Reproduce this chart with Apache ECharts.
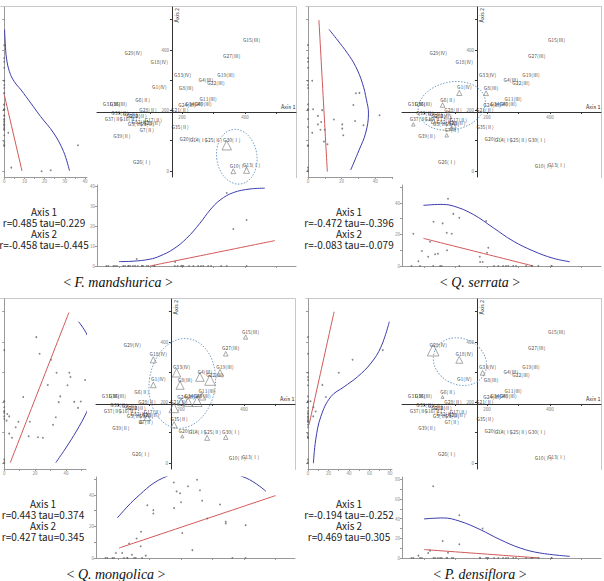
<!DOCTYPE html>
<html>
<head>
<meta charset="utf-8">
<title>Species overlays on the ordination</title>
<script src="https://cdn.jsdelivr.net/npm/echarts@6/dist/echarts.min.js"></script>
<style>
  html, body { margin: 0; padding: 0; background: #fff; }
  #main { width: 604px; height: 581px; }
</style>
</head>
<body>
<div id="main"></div>
<script>
// plots and their scores on ordination axis 1 / axis 2
var plotNames = ['G15(Ⅲ)','G27(Ⅲ)','G29(Ⅳ)','G18(Ⅳ)','G19(Ⅲ)','G33(Ⅳ)','G4(Ⅲ)','G22(Ⅲ)','G1(Ⅳ)','G8(Ⅲ)',
                 'G6(Ⅱ)','G11(Ⅲ)','G31(Ⅲ)','G36(Ⅲ)','G24(Ⅲ)','G34(Ⅲ)','G40(Ⅲ)','G28(Ⅱ)','G21(Ⅱ)','G37(Ⅱ)',
                 'G9(Ⅱ)','G12(Ⅱ)','G16(Ⅱ)','G32(Ⅱ)','G38(Ⅱ)','G17(Ⅱ)','G5(Ⅱ)','G3(Ⅱ)','G7(Ⅱ)','G39(Ⅱ)',
                 'G26(Ⅰ)','G35(Ⅱ)','G20(Ⅰ)','G14(Ⅰ)','G25(Ⅱ)','G30(Ⅰ)','G10(Ⅰ)','G13(Ⅰ)','G2(Ⅱ)','G23(Ⅱ)'];
var axis1 = [405,342,29,112,324,186,260,292,112,197, 59,267,-40,-18,200,222,251,76,177,-34,
             19,44,13,51,-13,93,35,73,72,-7, 56,178,204,236,283,342,363,405,30,88];
var axis2 = [416,361,373,341,298,298,284,274,258,257, 218,220,204,204,201,202,203,184,182,154,
             170,162,154,145,172,151,136,136,118,97, 11,126,88,83,83,85,-1,2,165,140];

// abundance of each species in the plots (same order as plotNames)
var abFM = [0,0,0,0,0,0,0,0,0,0, 0,0,0,0,0,0,0,0,0,0, 0,0,0,0,0,0,0,0,0,0, 3.5,2,0,0,0,36.5,18.5,23,0,0];
var abQS = [0,0,0,0,0,2.5,0,0,30.6,28.5, 27,0,0,3,8.4,0,0,42.6,5.9,20.4, 15.4,7.8,5.9,0,0,33,7.4,10,21,9.5, 0,2.5,11.6,0,0,0,0,0,28,20.4];
var abQM = [20.8,22.9,0,30.3,33.9,42.2,42.9,52.4,28.2,41, 12.3,36.3,0,0,35.3,45.4,49.6,0,47.8,0, 0,2,3.2,0,0,33.4,9.2,16.6,7.4,3.2, 0,31.6,15.8,5,25,21.8,0,0,0,1.5];
var abPD = [0,0,73,43.5,0,30,0,0,14,0, 17.4,0,0,2.4,0,0,0,5.3,0,0, 7.5,0,5.1,0,0,0,0,0,0,0, 0,0,0,0,0,0,0,0,0,0];

// fitted curves: left plots [abundance, axis 2], bottom plots [axis 1, abundance]
var fmLeftBlue = [[0.15,468],[0.5,422],[1.1,373],[2.6,328],[5,295],[8.3,268],[13.2,224],[18,180],[24.5,125],[29.4,64],[32.3,1]];
var fmLeftRed  = [[0,252],[8.8,0]];
var fmBotBlue  = [[0,2.2],[45,2.4],[98,3.4],[130,5],[172,8.4],[215,13.9],[257,21.4],[289,28],[321,33],[363,36.7],[416,38.5],[463,38.9]];
var fmBotRed   = [[98,0],[495,12.7]];

var qsLeftBlue = [[12.5,468],[17.5,433],[23.5,389],[28.4,345],[32.4,290],[34.8,235],[36,191],[34.3,125],[30.4,69],[25.4,3]];
var qsLeftRed  = [[6.5,499],[11.5,-2]];
var qsBotBlue  = [[-2,38.4],[51,39],[93,38],[156,32.7],[220,24.2],[283,15.8],[347,9.5],[410,4.9],[463,2.7]];
var qsBotRed   = [[-2,17.5],[347,0]];

var qmLeftBlue = [[33.4,1],[54.6,181],[58.4,296],[54.6,412],[48.2,467]];
var qmLeftRed  = [[3.9,1],[41.9,497]];
var qmBotBlue  = [[-2.5,25.3],[60,38.5],[142,50.6],[275,58],[407,50.6],[470,42.2]];
var qmBotRed   = [[3,6.3],[500,39.5]];

var pdLeftBlue = [[5.3,-1],[7.5,76],[12.5,153],[22.3,219],[35.3,252],[48.4,285],[61.5,330],[71.3,384],[79.4,467]];
var pdLeftRed  = [[1,126],[25.5,500]];
var pdBotBlue  = [[0,39.8],[61,40.8],[114,37.4],[178,29],[241,18.8],[305,10.2],[368,5.1],[463,1.7]];
var pdBotRed   = [[0,8.6],[368,0]];

// group ellipses: centre x, centre y, radius x, radius y (axis units), tilt in degrees
var ellFM = [374, 47, 64, 91, 8];
var ellQS = [88, 215, 108, 79, 12];
var ellQM = [204, 263, 105, 149, -8];
var ellPD = [114, 335, 87, 76, -25];

var panels = [
  {ox: 0, oy: 0, capX: 118, name: 'F. mandshurica', stats: ['r=0.485 tau=0.229', 'r=-0.458 tau=-0.445'],
   ab: abFM, tri: 0.26, ell: ellFM, lMax: 41, lLab: [0,10,20,30,40], lTick: [0,5,10,15,20,25,30,35,40],
   bMax: 40.5, bLab: [0,10,20,30,40], bTick: [0,10,20,30,40],
   lBlue: fmLeftBlue, lRed: fmLeftRed, bBlue: fmBotBlue, bRed: fmBotRed},
  {ox: 305, oy: 0, capX: 480, name: 'Q. serrata', stats: ['r=-0.472 tau=-0.396', 'r=-0.083 tau=-0.079'],
   ab: abQS, tri: 0.17, ell: ellQS, lMax: 50, lLab: [0,20,40], lTick: [0,10,20,30,40,50],
   bMax: 51.3, bLab: [0,20,40], bTick: [0,10,20,30,40,50],
   lBlue: qsLeftBlue, lRed: qsLeftRed, bBlue: qsBotBlue, bRed: qsBotRed},
  {ox: -1, oy: 292, capX: 116, name: 'Q. mongolica', stats: ['r=0.443 tau=0.374', 'r=0.427 tau=0.345'],
   ab: abQM, tri: 0.2, ell: ellQM, lMax: 53, lLab: [0,20,40], lTick: [0,10,20,30,40,50],
   bMax: 51.3, bLab: [0,20,40], bTick: [0,10,20,30,40,50],
   lBlue: qmLeftBlue, lRed: qmLeftRed, bBlue: qmBotBlue, bRed: qmBotRed},
  {ox: 305, oy: 292, capX: 480, name: 'P. densiflora', stats: ['r=-0.194 tau=-0.252', 'r=0.469 tau=0.305'],
   ab: abPD, tri: 0.16, ell: ellPD, lMax: 82, lLab: [0,20,40,60,80], lTick: [0,10,20,30,40,50,60,70,80],
   bMax: 82.5, bLab: [0,20,40,60,80], bTick: [0,10,20,30,40,50,60,70,80],
   lBlue: pdLeftBlue, lRed: pdLeftRed, bBlue: pdBotBlue, bRed: pdBotRed}
];

var X_MIN = -70, X_MAX = 562, Y_MIN = -20, Y_MAX = 542;
var CROSS_X = 168, CROSS_Y = 195;   // where the two ordination axes meet
var MAIN_W = 199, MAIN_H = 170, BOT_H = 81, LEFT_W = 84;

var BLUE = '#3c3cac', RED = '#d25858', AXIS = '#333', SOFT = '#999';
var SANS = 'Noto Sans CJK KR';

var grids = [], xAxes = [], yAxes = [], series = [], titles = [], graphics = [];

function sideAxis(gi, min, max, ticks, labels) {
  return {
    gridIndex: gi, type: 'value', min: min, max: max,
    axisLine: { onZero: false, lineStyle: { color: SOFT, width: 1 } },
    axisTick: { show: true, length: 2, customValues: ticks, lineStyle: { color: SOFT } },
    axisLabel: labels ? { customValues: labels, fontSize: 4.5, color: '#888', margin: 2, fontFamily: SANS } : { show: false },
    splitLine: { show: false }
  };
}

function line(data, color, xi, yi) {
  return { type: 'line', xAxisIndex: xi, yAxisIndex: yi, data: data, smooth: 0.4, showSymbol: false,
           lineStyle: { color: color, width: 1 }, clip: true, silent: true, z: 3 };
}

panels.forEach(function (p, k) {
  var gm = 3 * k, gl = 3 * k + 1, gb = 3 * k + 2;
  grids.push({ left: p.ox + 97, top: p.oy + 7, width: MAIN_W, height: MAIN_H });
  grids.push({ left: p.ox + 3, top: p.oy + 7, width: LEFT_W, height: MAIN_H });
  grids.push({ left: p.ox + 97, top: p.oy + 185, width: MAIN_W, height: BOT_H });

  // ordination axes, shifted so they cross at the centroid
  xAxes.push({
    gridIndex: gm, type: 'value', min: X_MIN, max: X_MAX, position: 'bottom',
    offset: -(CROSS_Y - Y_MIN) / (Y_MAX - Y_MIN) * MAIN_H,
    axisLine: { onZero: false, lineStyle: { color: AXIS, width: 1 } },
    axisTick: { show: true, length: 2, customValues: [0,100,200,300,400,500], lineStyle: { color: AXIS } },
    axisLabel: { customValues: [200,400], fontSize: 4.5, color: '#777', margin: 3, fontFamily: SANS },
    splitLine: { show: false },
    name: 'Axis 1', nameLocation: 'end', nameGap: -15,
    nameTextStyle: { fontSize: 5.5, color: AXIS, align: 'left', verticalAlign: 'bottom', padding: [0,0,2,0], fontFamily: SANS }
  });
  yAxes.push({
    gridIndex: gm, type: 'value', min: Y_MIN, max: Y_MAX, position: 'left',
    offset: -(CROSS_X - X_MIN) / (X_MAX - X_MIN) * MAIN_W,
    axisLine: { onZero: false, lineStyle: { color: AXIS, width: 1 } },
    axisTick: { show: true, length: 2, customValues: [0,100,200,300,400,500], lineStyle: { color: AXIS } },
    axisLabel: { customValues: [0,200,400], fontSize: 4.5, color: '#777', margin: 3, fontFamily: SANS },
    splitLine: { show: false },
    name: 'Axis 2', nameLocation: 'end', nameGap: -1, nameRotate: 90,
    nameTextStyle: { fontSize: 5.5, color: AXIS, align: 'right', verticalAlign: 'top', padding: [2,0,0,0], fontFamily: SANS }
  });

  // left: abundance against axis 2
  xAxes.push(sideAxis(gl, 0, p.lMax, p.lTick, p.lLab));
  yAxes.push(sideAxis(gl, Y_MIN, Y_MAX, [0,100,200,300,400,500], null));
  // bottom: axis 1 against abundance
  xAxes.push(sideAxis(gb, X_MIN, X_MAX, [0,100,200,300,400,500], null));
  yAxes.push(sideAxis(gb, 0, p.bMax, p.bTick, p.bLab));

  var pts = plotNames.map(function (n, i) {
    var s = p.ab[i] * p.tri;
    var item = { name: n, value: [axis1[i], axis2[i]], symbolSize: s >= 2.5 ? s : 1 };
    if (s < 2.5) item.itemStyle = { borderColor: 'transparent', color: 'transparent' };
    return item;
  });
  series.push({
    type: 'scatter', xAxisIndex: gm, yAxisIndex: gm, data: pts, symbol: 'triangle', silent: true, z: 4,
    itemStyle: { color: 'rgba(255,255,255,0)', borderColor: '#777', borderWidth: 0.8 },
    label: { show: true, formatter: '{b}', position: 'inside', offset: [5, -6], fontSize: 5,
             color: '#222', textBorderWidth: 0, textBorderColor: 'transparent', fontFamily: SANS }
  });
  series.push({
    type: 'custom', xAxisIndex: gm, yAxisIndex: gm, data: [p.ell], silent: true, clip: false, z: 2,
    renderItem: function (params, api) {
      var c = api.coord([api.value(0), api.value(1)]);
      var s = api.size([api.value(2), api.value(3)]);
      return { type: 'ellipse', x: c[0], y: c[1], rotation: api.value(4) * Math.PI / 180,
               shape: { cx: 0, cy: 0, rx: s[0], ry: s[1] },
               style: { fill: 'none', stroke: '#6f9cc4', lineWidth: 0.9, lineDash: [1.5, 1.5] } };
    }
  });

  var leftDots = p.ab.map(function (a, i) { return [a, axis2[i]]; });
  var botDots = p.ab.map(function (a, i) { return [axis1[i], a]; });
  series.push({ type: 'scatter', xAxisIndex: gl, yAxisIndex: gl, data: leftDots, symbolSize: 1.8,
                itemStyle: { color: '#666' }, silent: true, z: 4 });
  series.push(line(p.lBlue, BLUE, gl, gl));
  series.push(line(p.lRed, RED, gl, gl));
  series.push({ type: 'scatter', xAxisIndex: gb, yAxisIndex: gb, data: botDots, symbolSize: 1.8,
                itemStyle: { color: '#666' }, silent: true, z: 4 });
  series.push(line(p.bBlue, BLUE, gb, gb));
  series.push(line(p.bRed, RED, gb, gb));

  titles.push({
    text: 'Axis 1\n' + p.stats[0] + '\nAxis 2\n' + p.stats[1],
    left: p.ox + 44, top: p.oy + 206, textAlign: 'center', padding: 0,
    textStyle: { fontSize: 10, lineHeight: 11, fontWeight: 'normal', color: '#222', fontFamily: SANS }
  });
  titles.push({
    text: '< {i|' + p.name + '} >', left: p.capX, top: p.oy + 275, textAlign: 'center', padding: 0,
    textStyle: { fontSize: 14, fontWeight: 'normal', color: '#111', fontFamily: 'Liberation Serif',
                 rich: { i: { fontStyle: 'italic', fontSize: 14, fontFamily: 'Liberation Serif', color: '#111' } } }
  });

  graphics.push({ type: 'line', silent: true, shape: { x1: p.ox + 0.5, y1: p.oy + 6.5, x2: p.ox + 296.5, y2: p.oy + 6.5 },
                  style: { stroke: '#c8c8c8', lineWidth: 1 } });
  graphics.push({ type: 'line', silent: true, shape: { x1: p.ox + 296.5, y1: p.oy + 6.5, x2: p.ox + 296.5, y2: p.oy + 178 },
                  style: { stroke: '#c8c8c8', lineWidth: 1 } });
});

var chart = echarts.init(document.getElementById('main'), null, { renderer: 'svg' });
chart.setOption({
  backgroundColor: '#fff',
  animation: false,
  title: titles,
  grid: grids,
  xAxis: xAxes,
  yAxis: yAxes,
  series: series,
  graphic: graphics
});
</script>
</body>
</html>
